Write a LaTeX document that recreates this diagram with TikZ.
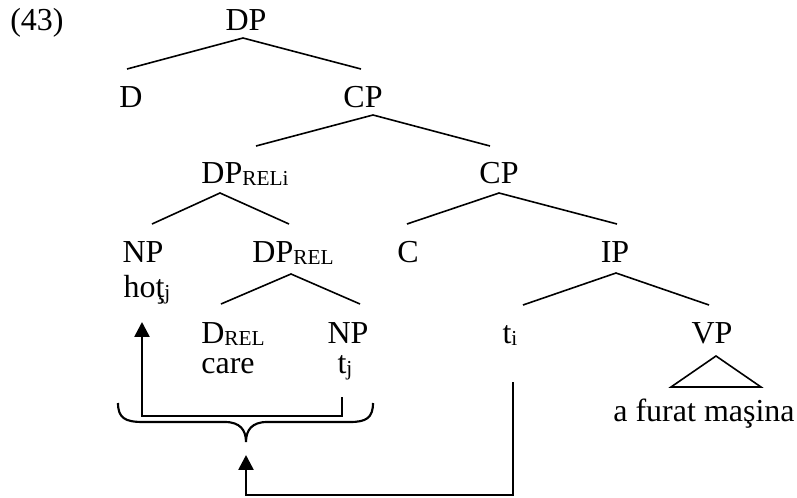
\documentclass[tikz,border=0pt]{standalone}
\usepackage{fontspec}
\setmainfont{Liberation Serif}
\usetikzlibrary{arrows.meta}
% lowered small index (REL, i, j)
\newcommand\lo[1]{\raisebox{-1.1pt}{\fontsize{8}{9}\selectfont #1}}

\begin{document}
\begin{tikzpicture}[x=0.375pt,y=-0.375pt]
\tikzstyle{every node}+=[inner sep=0pt,anchor=base,font=\fontsize{12}{14}\selectfont]
\tikzstyle{branch}=[line width=0.6pt]
\tikzstyle{move}=[line width=1pt,-{Triangle[length=5.6pt,width=5.6pt]}]
\useasboundingbox (0,0) rectangle (797,497);
\node (ex) at (37,30) {(43)};
% the tree, row by row
\node (dp) at (246,30) {DP};
\node (d) at (131,107) {D};
\node (cpa) at (363,107) {CP};
\node (dpreli) at (245,183) {DP\lo{RELi}};
\node (cpb) at (499,183) {CP};
\node (npa) at (143,262) {NP};
\node (dprel) at (293,262) {DP\lo{REL}};
\node (c) at (408,262) {C};
\node (ip) at (615,262) {IP};
\node (hot) at (147,297) {hoţ\lo{j}};
\node (drel) at (233,343) {D\lo{REL}};
\node (npb) at (348,343) {NP};
\node (ti) at (510,343) {t\lo{i}};
\node (vp) at (712,343) {VP};
\node (care) at (228,373) {care};
\node (tj) at (345,373) {t\lo{j}};
\node (furat) at (704,421) {a furat maşina};
% branches
\draw[branch] ([shift={(-4,-38)}]d.base) -- ([shift={(-3,8)}]dp.base) -- ([shift={(-2,-38)}]cpa.base);
\draw[branch] ([shift={(11,-37)}]dpreli.base) -- ([shift={(10,8)}]cpa.base) -- ([shift={(-9,-37)}]cpb.base);
\draw[branch] ([shift={(9,-38)}]npa.base) -- ([shift={(-25,10)}]dpreli.base) -- ([shift={(-4,-38)}]dprel.base);
\draw[branch] ([shift={(-1,-38)}]c.base) -- ([shift={(0,10)}]cpb.base) -- ([shift={(2,-38)}]ip.base);
\draw[branch] ([shift={(-12,-39)}]drel.base) -- ([shift={(-2,12)}]dprel.base) -- ([shift={(12,-39)}]npb.base);
\draw[branch] ([shift={(13,-38)}]ti.base) -- ([shift={(1,11)}]ip.base) -- ([shift={(-3,-38)}]vp.base);
\draw[branch] ([shift={(4,13)}]vp.base) -- ([shift={(49,44)}]vp.base) -- ([shift={(-41,44)}]vp.base) -- cycle;
% brace under the relative DP
\draw[line width=0.8pt] (118,403) .. controls (118,418) and (125,422) .. (143,422) -- (225,422)
  .. controls (240,422) and (246,430) .. (246,442)
  .. controls (246,430) and (252,422) .. (267,422) -- (350,422)
  .. controls (366,422) and (373,418) .. (373,403);
\coordinate (gap) at (246,455);
% movement
\draw[move] ([shift={(-3,24)}]tj.base) -- ++(0,19) -| ([shift={(-5,25)}]hot.base);
\draw[move] ([shift={(3,39)}]ti.base) -- ++(0,113) -| (gap);
\end{tikzpicture}
\end{document}
